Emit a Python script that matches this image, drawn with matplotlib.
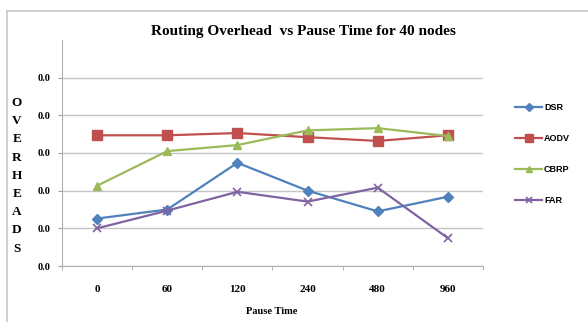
import numpy as np
import matplotlib.pyplot as plt
from matplotlib.lines import Line2D

# routing overhead per protocol at each pause time
pause_times = ['0', '60', '120', '240', '480', '960']
dsr = [0.0063, 0.0075, 0.0137, 0.0100, 0.00725, 0.0092]
aodv = [0.01735, 0.01735, 0.01765, 0.0171, 0.0166, 0.01735]
cbrp = [0.01065, 0.01525, 0.01605, 0.0180, 0.0183, 0.01725]
far = [0.0050, 0.00735, 0.00985, 0.00855, 0.0104, 0.0037]
y_ticks = [0.0, 0.005, 0.010, 0.015, 0.020, 0.025]


def main():
    W, H = 588, 322
    fig = plt.figure(figsize=(W/100, H/100), dpi=100)
    ax = fig.add_axes([62/W, (H-266)/H, (483-62)/W, (266-40)/H])

    # outer chart frame (runs off the right and bottom edges)
    fig.add_artist(Line2D([7/W, 1.0], [1-11/H, 1-11/H], color='#c8c8c8', lw=1.2))
    fig.add_artist(Line2D([7/W, 7/W], [0.0, 1-11/H], color='#c8c8c8', lw=1.2))

    x = np.arange(len(pause_times))
    ax.plot(x, dsr, color='#4f81bd', lw=1.6, marker='D', ms=5, label='DSR')
    ax.plot(x, aodv, color='#c0504d', lw=1.6, marker='s', ms=6.5, label='AODV')
    ax.plot(x, cbrp, color='#9bbb59', lw=1.6, marker='^', ms=6, label='CBRP')
    ax.plot(x, far, color='#8064a2', lw=1.6, marker='x', ms=6, mew=1.2, label='FAR')

    ax.set_xlim(-0.5, len(pause_times) - 0.5)
    ax.set_ylim(0, 0.03)
    ax.set_yticks(y_ticks)
    ax.set_yticklabels(['%.1f' % v for v in y_ticks])
    ax.set_xticks(x)
    ax.set_xticklabels(pause_times)
    ax.set_xticks(np.arange(-0.5, len(pause_times)), minor=True)
    ax.tick_params(axis='x', which='major', length=0, pad=14)
    ax.tick_params(axis='x', which='minor', length=3, color='#a0a0a0')
    ax.tick_params(axis='y', length=3, color='#a0a0a0', pad=5)
    for lbl in ax.get_xticklabels():
        lbl.set_fontfamily('Liberation Serif')
        lbl.set_fontweight('bold')
        lbl.set_fontsize(8)
    for lbl in ax.get_yticklabels():
        lbl.set_fontfamily('Liberation Serif')
        lbl.set_fontweight('bold')
        lbl.set_fontsize(7.5)

    ax.grid(axis='y', color='#c4c4c4', lw=1)
    ax.set_axisbelow(True)
    for s in ['top', 'right']:
        ax.spines[s].set_visible(False)
    ax.spines['left'].set_color('#b0b0b0')
    ax.spines['bottom'].set_color('#b0b0b0')

    fig.text(303/W, 1-31/H, 'Routing Overhead  vs Pause Time for 40 nodes',
             ha='center', va='center', family='Liberation Serif',
             weight='bold', fontsize=11)
    fig.text(272/W, 1-311/H, 'Pause Time', ha='center', va='center',
             family='Liberation Serif', weight='bold', fontsize=7.5)

    # stacked y label
    letters = 'OVERHEADS'
    for i, ch in enumerate(letters):
        fig.text(17/W, 1-(103 + i*18.2)/H, ch, ha='center', va='center',
                 family='Liberation Serif', weight='bold', fontsize=9.5)

    fig.legend(loc='upper left', bbox_to_anchor=(515/W, 1-103/H),
               frameon=False, prop={'family': 'Liberation Sans', 'size': 6.5,
                                    'weight': 'bold'},
               handlelength=3.0, handletextpad=0.2, labelspacing=2.45,
               borderpad=0, borderaxespad=0, markerscale=0.8)

    fig.savefig('out.png', dpi=100)


if __name__ == '__main__':
    main()
